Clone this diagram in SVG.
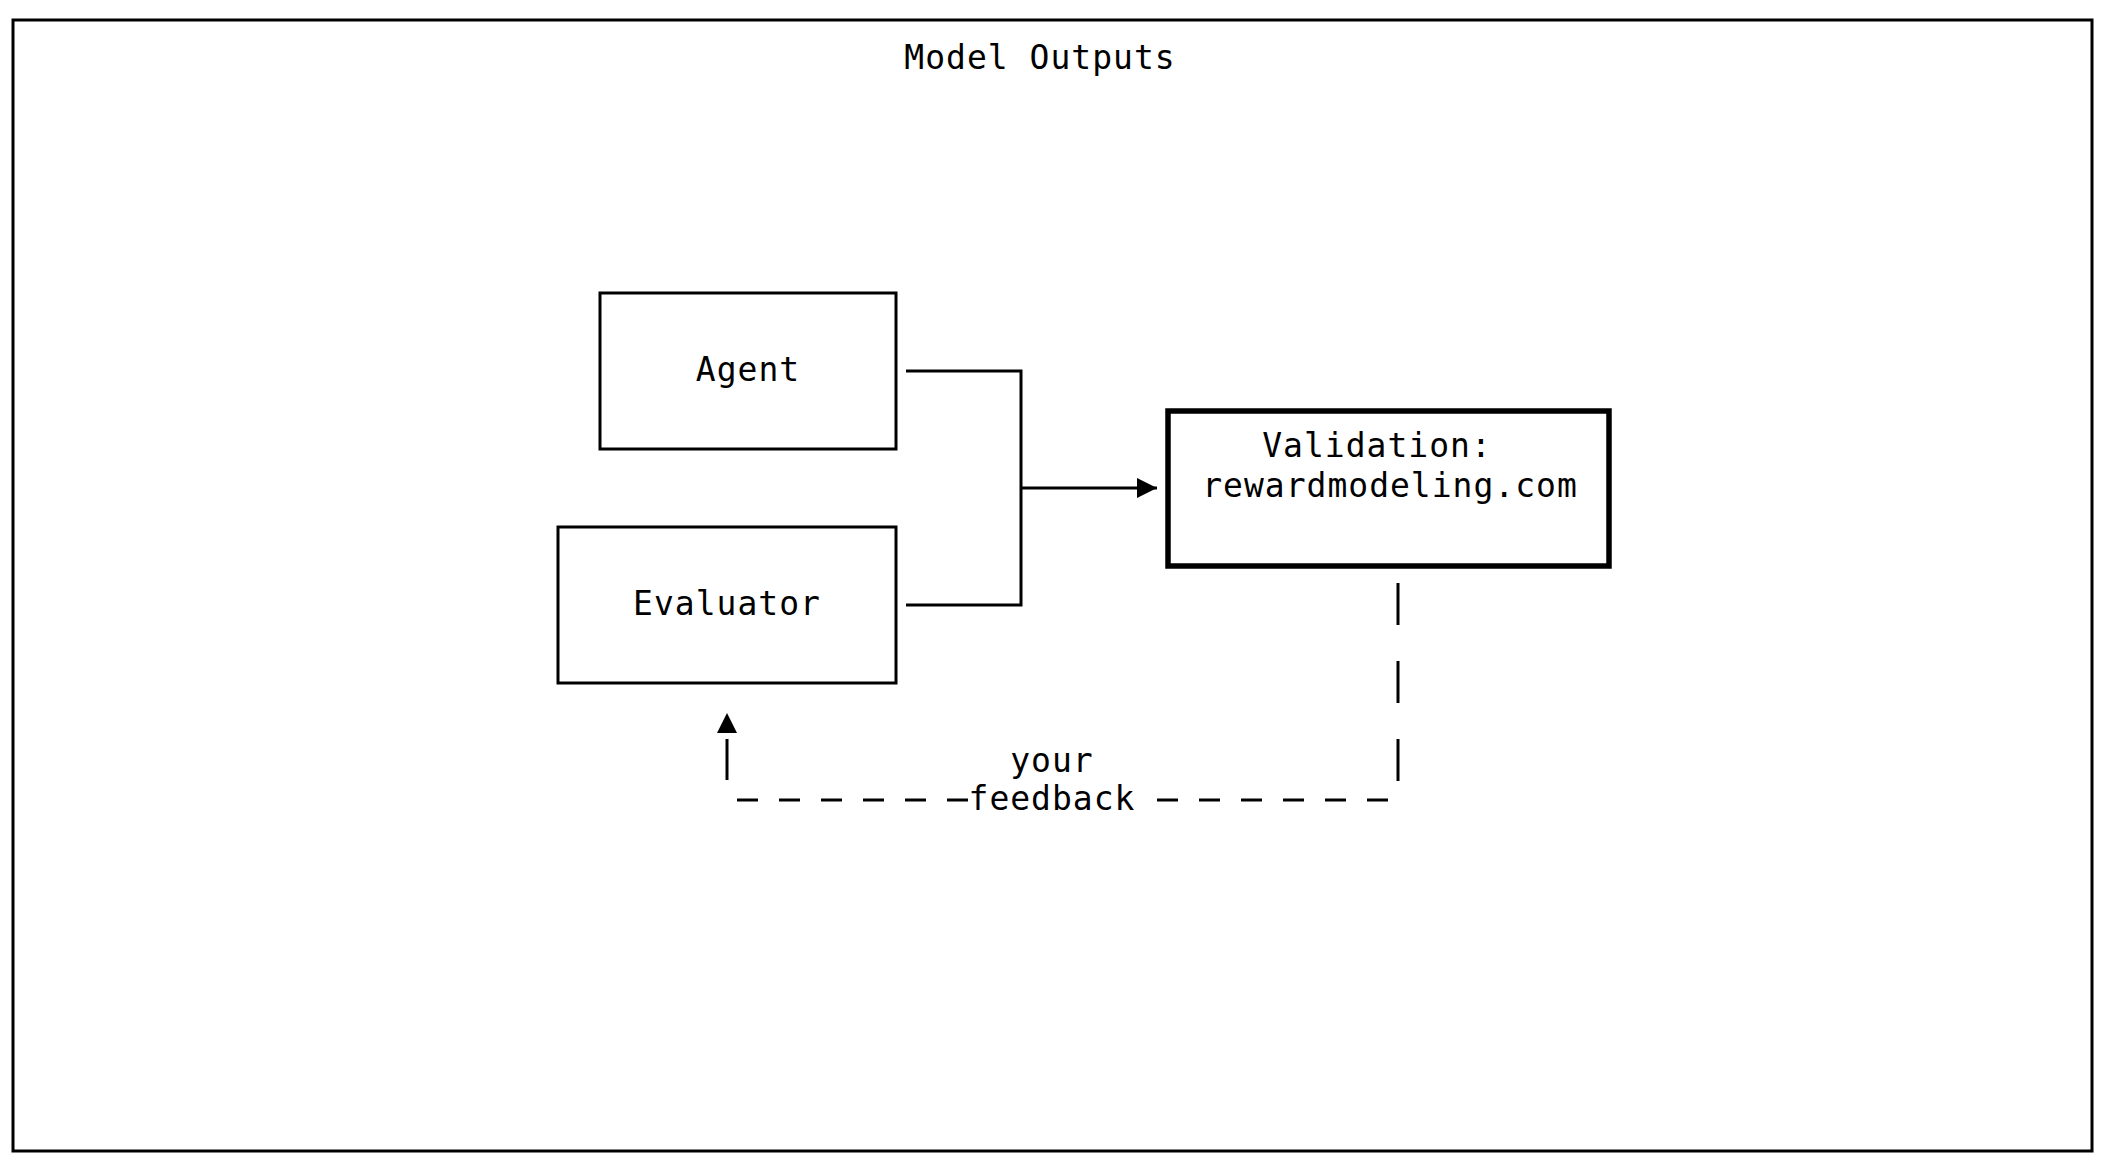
<svg xmlns="http://www.w3.org/2000/svg" width="2103" height="1173" viewBox="0 0 2103 1173">
<style>
text{font-family:"DejaVu Sans Mono","Liberation Mono",monospace;font-size:33px;letter-spacing:1px;fill:#000;text-anchor:middle}
.box{fill:none;stroke:#000;stroke-width:3}
.thick{fill:none;stroke:#000;stroke-width:5.5}
.ln{fill:none;stroke:#000;stroke-width:3}
.dash{fill:none;stroke:#000;stroke-width:3;stroke-dasharray:21 21}
.vdash{fill:none;stroke:#000;stroke-width:3;stroke-dasharray:42 36}
</style>
<defs>
<marker id="arr" viewBox="0 0 20 20" refX="20" refY="10" markerWidth="20" markerHeight="20" markerUnits="userSpaceOnUse" orient="auto">
<path d="M0,0 L20,10 L0,20 Z" fill="#000"/>
</marker>
</defs>
<rect width="2103" height="1173" fill="#fff"/>
<g id="frame">
<rect x="13" y="20" width="2079" height="1131" class="box" stroke-width="3.2"/>
<text x="1040" y="69">Model Outputs</text>
</g>
<g id="agent">
<rect x="600" y="293" width="296" height="156" class="box"/>
<text x="748" y="381">Agent</text>
</g>
<g id="evaluator">
<rect x="558" y="527" width="338" height="156" class="box"/>
<text x="727" y="615">Evaluator</text>
</g>
<g id="validation">
<rect x="1168" y="411" width="441" height="155" class="thick"/>
<text x="1377" y="457">Validation:</text>
<text x="1390" y="497">rewardmodeling.com</text>
</g>
<g id="connectors">
<polyline points="906,371 1021,371 1021,605 906,605" class="ln"/>
<line x1="1021" y1="488" x2="1157" y2="488" class="ln" marker-end="url(#arr)"/>
<line x1="1398" y1="583" x2="1398" y2="781" class="vdash"/>
<line x1="1157" y1="800" x2="1388" y2="800" class="dash"/>
<line x1="737" y1="800" x2="969" y2="800" class="dash"/>
<line x1="727" y1="780" x2="727" y2="713" class="ln" stroke-dasharray="41 100" marker-end="url(#arr)"/>
<text x="1052" y="772">your</text>
<text x="1052" y="810">feedback</text>
</g>
</svg>
